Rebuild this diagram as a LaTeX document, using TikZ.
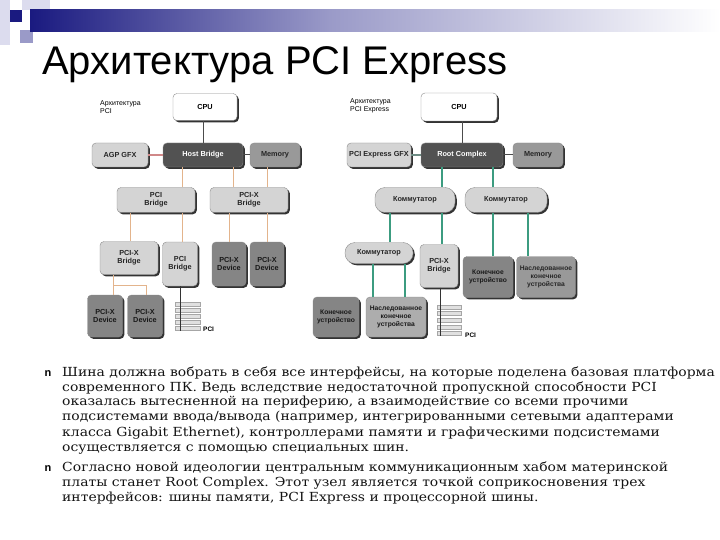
\documentclass[tikz,border=0pt]{standalone}
\usepackage{fontspec}
\setmainfont{DejaVu Serif}
\setsansfont{Liberation Sans}
\newfontfamily\titlefont{Liberation Sans}
\newfontfamily\bodyfont[FakeStretch=1.115]{DejaVu Serif}
\usetikzlibrary{shadows}
\definecolor{navy}{HTML}{1A1A80}
\definecolor{lav}{HTML}{DCDCEE}
\definecolor{lav2}{HTML}{9A9AC8}
\definecolor{pinkln}{HTML}{D08888}
\definecolor{tanln}{HTML}{E3B48C}
\definecolor{tealln}{HTML}{3C9C80}
\definecolor{greyteal}{HTML}{6E8C84}
\tikzset{
  box/.style={draw=black!45, rounded corners=4pt, align=center, inner sep=1pt,
    font=\sffamily\bfseries\fontsize{7.3}{8.2}\selectfont,
    drop shadow={shadow xshift=1.8pt, shadow yshift=-1.8pt, fill=black!80, opacity=1}},
  wbox/.style={box, fill=white},
  lbox/.style={box, fill=black!17, text=black!85},
  dbox/.style={box, fill=black!68, text=white},
  mbox/.style={box, fill=black!40, text=black!85},
  gbox/.style={box, fill=black!48, text=black!90},
  hbox/.style={box, fill=black!32, text=black!90},
  pill/.style={lbox, rounded corners=10pt},
  small/.style={font=\sffamily\bfseries\fontsize{6.7}{7.8}\selectfont},
  darkln/.style={draw=black!70, line width=1pt},
  pinkl/.style={draw=pinkln, line width=1.2pt},
  tanl/.style={draw=tanln, line width=0.7pt},
  teall/.style={draw=tealln, line width=1.1pt},
  slot/.style={draw=black!35, fill=black!12, line width=0.4pt},
  lbl/.style={font=\sffamily\fontsize{7}{8.5}\selectfont, align=left, anchor=north west, inner sep=0pt},
  bodyline/.style={anchor=base west, inner sep=0pt, font=\bodyfont\fontsize{12.5}{15}\selectfont, text=black!92},
  bullet/.style={anchor=base, inner sep=0pt, font=\sffamily\bfseries\fontsize{11}{12}\selectfont}
}
\begin{document}
\begin{tikzpicture}[x=1pt,y=-1pt]
\useasboundingbox (0,0) rectangle (720,540);
\fill[white] (0,0) rectangle (720,540);
% corner decoration and bar
\fill[lav] (0,0) rectangle (10,45);
\fill[lav] (22,0) rectangle (50,10);
\fill[navy] (10,10) rectangle (22,22);
\fill[lav2] (20,30) rectangle (33,43);
\shade[left color=navy, right color=lav2] (30,10) rectangle (330,32);
\shade[left color=lav2, right color=white] (330,10) rectangle (720,32);
% title
\node[anchor=base west, inner sep=0pt, font=\titlefont\fontsize{40}{40}\selectfont] (title) at (42,75) {Архитектура PCI Express};

% ---------- left diagram ----------
\node[lbl] (llab) at (100,100) {Архитектура\\PCI};
\node[wbox, minimum width=64pt, minimum height=27pt] (lcpu) at (205,107) {CPU};
\node[dbox, minimum width=80pt, minimum height=24pt] (lhost) at (203,155) {Host Bridge};
\node[lbox, minimum width=56pt, minimum height=24pt] (lagp) at (120,155) {AGP GFX};
\node[mbox, minimum width=50pt, minimum height=24pt] (lmem) at (275,155) {Memory};
\node[lbox, minimum width=78pt, minimum height=25pt] (lpcib) at (156,200) {PCI\\Bridge};
\node[lbox, minimum width=78pt, minimum height=25pt] (lpcixb) at (249,200) {PCI-X\\Bridge};
\node[lbox, minimum width=58pt, minimum height=33pt] (lpcixb2) at (129,258) {PCI-X\\Bridge};
\node[lbox, minimum width=35pt, minimum height=44pt] (lpcib2) at (180,264) {PCI\\Bridge};
\node[gbox, minimum width=34pt, minimum height=44pt] (ldev1) at (229,264) {PCI-X\\Device};
\node[gbox, minimum width=34pt, minimum height=44pt] (ldev2) at (267,264) {PCI-X\\Device};
\node[gbox, minimum width=35pt, minimum height=42pt] (ldev3) at (105,316) {PCI-X\\Device};
\node[gbox, minimum width=35pt, minimum height=42pt] (ldev4) at (145,316) {PCI-X\\Device};

\coordinate (lx130) at (130,0);
\coordinate (lx182) at (182,0);
\coordinate (lx229) at (229,0);
\coordinate (lx233) at (233,0);
\coordinate (lx267) at (267,0);
\coordinate (lj1) at (113,285);
\coordinate (lj2) at (146,285);
\coordinate (lslotend) at (180,331);

\draw[darkln] (lcpu.south -| lhost) -- (lhost.north);
\draw[pinkl] (lagp.east) -- (lhost.west);
\draw[darkln] (lhost.east) -- (lmem.west);
\draw[tanl] (lhost.south -| lx182) -- (lpcib.north -| lx182);
\draw[tanl] (lhost.south -| lx233) -- (lpcixb.north -| lx233);
\draw[tanl] (lhost.south -| lx267) -- (lpcixb.north -| lx267);
\draw[tanl] (lpcib.south -| lx130) -- (lpcixb2.north -| lx130);
\draw[tanl] (lpcib.south -| lx182) -- (lpcib2.north -| lx182);
\draw[tanl] (lpcixb.south -| lx229) -- (ldev1.north -| lx229);
\draw[tanl] (lpcixb.south -| lx267) -- (ldev2.north -| lx267);
\draw[tanl] (lpcixb2.south -| lj1) -- (ldev3.north -| lj1);
\draw[tanl] (lj1) -- (lj2) -- (ldev4.north -| lj2);
\foreach \yy in {302,308,314,320,326} \draw[slot] (175,\yy) rectangle (200,\yy+4);
\draw[black!80, line width=0.8pt] (lpcib2.south) -- (lslotend);
\node[font=\sffamily\bfseries\fontsize{6.5}{7}\selectfont, inner sep=0pt, anchor=west] (lpci) at (203,329) {PCI};

% ---------- right diagram ----------
\node[lbl] (rlab) at (350,98) {Архитектура\\PCI Express};
\node[wbox, minimum width=76pt, minimum height=28pt] (rcpu) at (459,107) {CPU};
\node[dbox, minimum width=82pt, minimum height=24pt] (rroot) at (462,155) {Root Complex};
\node[lbox, minimum width=64pt, minimum height=24pt, inner sep=0pt] (rgfx) at (379,155) {PCI Express GFX};
\node[mbox, minimum width=50pt, minimum height=24pt] (rmem) at (538,155) {Memory};
\node[pill, minimum width=80pt, minimum height=25pt] (rsw1) at (415,200) {Коммутатор};
\node[pill, minimum width=82pt, minimum height=25pt] (rsw2) at (506,200) {Коммутатор};
\node[pill, minimum width=68pt, minimum height=21pt] (rsw3) at (379,253) {Коммутатор};
\node[lbox, minimum width=38pt, minimum height=43pt] (rpcix) at (439,266) {PCI-X\\Bridge};
\node[gbox, small, minimum width=50pt, minimum height=41pt, inner sep=0pt] (rend1) at (488,277) {Конечное\\устройство};
\node[mbox, small, minimum width=59pt, minimum height=41pt, inner sep=0pt] (rleg1) at (546,277) {Наследованное\\конечное\\устройства};
\node[gbox, small, minimum width=46pt, minimum height=40pt, inner sep=0pt] (rend2) at (336,317) {Конечное\\устройство};
\node[hbox, small, minimum width=60pt, minimum height=40pt, inner sep=0pt] (rleg2) at (396,317) {Наследованное\\конечное\\устройства};

\coordinate (rx373) at (373,0);
\coordinate (rx390) at (390,0);
\coordinate (rx405) at (405,0);
\coordinate (rx442) at (442,0);
\coordinate (rx493) at (493,0);
\coordinate (rx528) at (528,0);
\coordinate (rslotend) at (440,336);

\draw[darkln] (rcpu.south -| rroot) -- (rroot.north);
\draw[draw=greyteal, line width=1.1pt] (rgfx.east) -- (rroot.west);
\draw[darkln] (rroot.east) -- (rmem.west);
\draw[teall] (rroot.south -| rx442) -- (rsw1.north -| rx442);
\draw[teall] (rroot.south -| rx493) -- (rsw2.north -| rx493);
\draw[teall] (rsw1.south -| rx390) -- (rsw3.north -| rx390);
\draw[teall] (rsw1.south -| rx442) -- (rpcix.north -| rx442);
\draw[teall] (rsw2.south -| rx493) -- (rend1.north -| rx493);
\draw[teall] (rsw2.south -| rx528) -- (rleg1.north -| rx528);
\draw[teall] (rsw3.south -| rx373) -- (rleg2.north -| rx373);
\draw[teall] (rsw3.south -| rx405) -- (rleg2.north -| rx405);
\foreach \yy in {305,311,318,325,331} \draw[slot] (437,\yy) rectangle (461,\yy+4);
\draw[black!80, line width=0.8pt] (rpcix.south -| rslotend) -- (rslotend);
\node[font=\sffamily\bfseries\fontsize{6.5}{7}\selectfont, inner sep=0pt, anchor=west] (rpci) at (465,335) {PCI};

% ---------- body text ----------
\node[bullet] (b1) at (48,376) {n};
\node[bullet] (b2) at (48,471) {n};
\node[bodyline] (t1) at (62,376) {Шина должна вобрать в себя все интерфейсы, на которые поделена базовая платформа};
\node[bodyline] (t2) at (62,391) {современного ПК. Ведь вследствие недостаточной пропускной способности PCI};
\node[bodyline] (t3) at (62,405) {оказалась вытесненной на периферию, а взаимодействие со всеми прочими};
\node[bodyline] (t4) at (62,420) {подсистемами ввода/вывода (например, интегрированными сетевыми адаптерами};
\node[bodyline] (t5) at (62,436) {класса Gigabit Ethernet), контроллерами памяти и графическими подсистемами};
\node[bodyline] (t6) at (62,451) {осуществляется с помощью специальных шин.};
\node[bodyline] (t7) at (62,471) {Согласно новой идеологии центральным коммуникационным хабом материнской};
\node[bodyline] (t8) at (62,486) {платы станет Root Complex. Этот узел является точкой соприкосновения трех};
\node[bodyline] (t9) at (62,501) {интерфейсов: шины памяти, PCI Express и процессорной шины.};
\end{tikzpicture}
\end{document}
